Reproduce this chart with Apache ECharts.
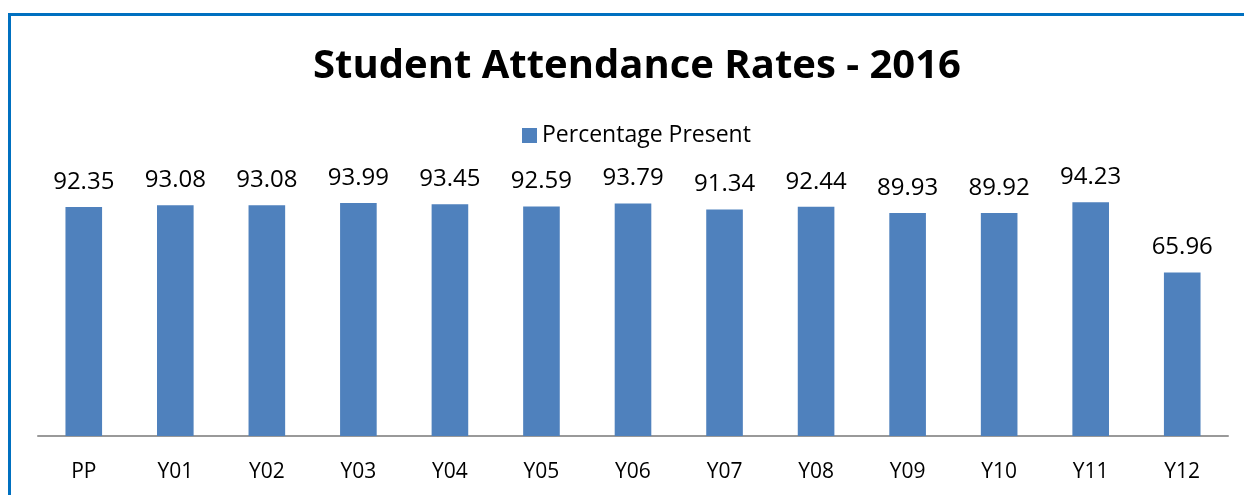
<!DOCTYPE html>
<html>
<head>
<meta charset="utf-8">
<script src="https://cdn.jsdelivr.net/npm/echarts@6/dist/echarts.min.js"></script>
<style>
  html, body { margin: 0; padding: 0; background: #fff; }
  #frame { position: absolute; left: 8px; top: 13px; width: 1236px; height: 482px;
           border-left: 3px solid #0070C0; border-top: 3px solid #0070C0; box-sizing: border-box; }
  #chart { position: absolute; left: 0; top: 0; width: 1244px; height: 495px; }
</style>
</head>
<body>
<div id="frame"></div>
<div id="chart"></div>
<script>
var categories = ['PP', 'Y01', 'Y02', 'Y03', 'Y04', 'Y05', 'Y06', 'Y07', 'Y08', 'Y09', 'Y10', 'Y11', 'Y12'];
var present = [92.35, 93.08, 93.08, 93.99, 93.45, 92.59, 93.79, 91.34, 92.44, 89.93, 89.92, 94.23, 65.96];

var chart = echarts.init(document.getElementById('chart'));
var font = '"Open Sans", "Noto Sans", sans-serif';

chart.setOption({
    animation: false,
    title: {
        text: 'Student Attendance Rates - 2016',
        left: 632,
        textAlign: 'center',
        top: 42,
        textStyle: { fontFamily: font, fontSize: 40, fontWeight: 'bold', color: '#000' }
    },
    legend: {
        data: ['Percentage Present'],
        top: 124,
        left: 522,
        padding: 0,
        icon: 'rect',
        itemWidth: 15,
        itemHeight: 15,
        itemGap: 6,
        textStyle: { fontFamily: font, fontSize: 23, color: '#000' }
    },
    grid: { left: 38, right: 16, top: 188, bottom: 59 },
    xAxis: {
        type: 'category',
        data: categories,
        axisLine: { lineStyle: { color: '#999', width: 2 } },
        axisTick: { show: false },
        axisLabel: { fontFamily: font, fontSize: 21, color: '#000', margin: 26 }
    },
    yAxis: {
        type: 'value',
        min: 0,
        max: 100,
        show: false
    },
    series: [{
        name: 'Percentage Present',
        type: 'bar',
        data: present,
        barWidth: '40%',
        itemStyle: { color: '#4F81BD' },
        label: {
            show: true,
            position: 'top',
            distance: 13,
            fontFamily: font,
            fontSize: 24,
            color: '#000'
        }
    }]
});
</script>
</body>
</html>
